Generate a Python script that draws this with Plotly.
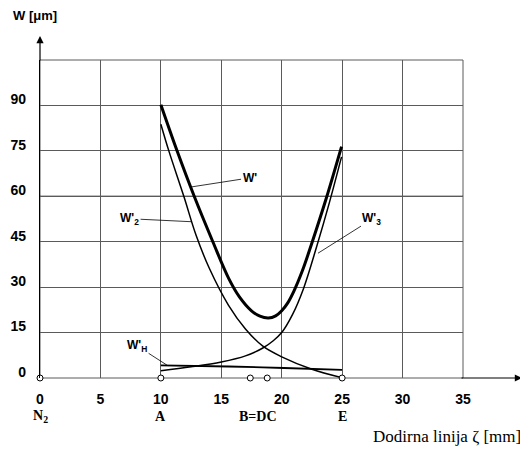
import plotly.graph_objects as go

# ---- data ----
wp_x = [10, 11.34, 12.76, 14.3, 15.6, 16.5, 17.5, 18.2, 18.9, 19.5, 20.0, 20.5,
        21.0, 21.7, 22.45, 23.7, 24.95]
wp_y = [90.2, 75, 60, 45, 33, 26.8, 22.2, 20.4, 19.8, 20.5, 22.2, 24.8,
        28.6, 35.3, 44, 59.5, 76.4]

w2_x = [10, 10.66, 11.9, 12.9, 14.0, 15.6, 17.0, 18.44, 20.0, 22.5, 24.9]
w2_y = [83.8, 75, 60, 47.3, 36.3, 24.0, 16.2, 10.5, 7.0, 2.9, 0.2]

w3_x = [10, 12.5, 15, 17, 18.44, 19.3, 20, 20.9, 21.8, 22.9, 23.95, 24.95]
w3_y = [2.4, 3.7, 5.3, 7.3, 9.9, 12.3, 15, 21, 29.5, 43.5, 58, 73]

wh_x = [10, 15.6, 20.2, 25]
wh_y = [4.2, 3.8, 3.3, 2.7]

pt_x = [0, 10, 17.4, 18.8, 25]
pt_y = [0, 0, 0, 0, 0]

name_x = [0, 10, 18.0, 25]
name_txt = ["N<sub>2</sub>", "A", "B=DC", "E"]

x_ticks = [0, 5, 10, 15, 20, 25, 30, 35]
x_ticktext = ["0", "5", "10", "15", "20", "25", "30", "35"]
y_ticks = [0, 15, 30, 45, 60, 75, 90, 105]
y_ticktext = ["0", "15", "30", "45", "60", "75", "90", ""]

# curve labels: text, point on curve (x, y), pixel offset of the label
lab_txt = ["W'", "W'<sub>2</sub>", "W'<sub>3</sub>", "W'<sub>H</sub>"]
lab_x = [12.54, 12.54, 23.0, 10.6]
lab_y = [63.1, 51.6, 41.2, 4.0]
lab_ax = [58, -62, 54, -31]
lab_ay = [-9, -3, -34, -20]

fig = go.Figure()
spl = dict(color="black", shape="spline", smoothing=1.0)
fig.add_trace(go.Scatter(x=wp_x, y=wp_y, mode="lines", line=dict(width=3, **spl)))
fig.add_trace(go.Scatter(x=w2_x, y=w2_y, mode="lines", line=dict(width=1.5, **spl)))
fig.add_trace(go.Scatter(x=w3_x, y=w3_y, mode="lines", line=dict(width=1.5, **spl)))
fig.add_trace(go.Scatter(x=wh_x, y=wh_y, mode="lines", line=dict(width=1.8, **spl)))
fig.add_trace(go.Scatter(x=pt_x, y=pt_y, mode="markers", cliponaxis=False,
                         marker=dict(symbol="circle", size=6, color="white",
                                     line=dict(width=1, color="black"))))

# frame and emphasised gridline at 60
fig.add_shape(type="rect", xref="paper", yref="paper", x0=0, y0=0, x1=1, y1=1,
              line=dict(color="#5a5a5a", width=1), layer="below")
fig.add_hline(y=60, line=dict(color="black", width=1.2), layer="below")

lab_font = dict(family="Liberation Sans, Arial", size=12, color="black", weight="bold")
for t, x, y, ax, ay in zip(lab_txt, lab_x, lab_y, lab_ax, lab_ay):
    fig.add_annotation(x=x, y=y, text=t, showarrow=True, arrowhead=0,
                       arrowwidth=0.8, arrowcolor="black", ax=ax, ay=ay,
                       font=lab_font)

for t, x in zip(name_txt, name_x):
    fig.add_annotation(x=x, y=-0.1226, xref="x", yref="paper", text=t,
                       showarrow=False, xanchor="center", yanchor="middle",
                       font=dict(family="Liberation Serif, Times New Roman", size=14,
                                 color="black", weight="bold"))

# axis arrows
fig.add_annotation(x=0, y=1.0755, xref="x", yref="paper", text="", showarrow=True,
                   arrowhead=2, arrowsize=1.2, arrowwidth=1.2, arrowcolor="black",
                   ax=0, ay=26)
fig.add_annotation(x=1.1395, y=0, xref="paper", yref="y", text="", showarrow=True,
                   arrowhead=2, arrowsize=1.2, arrowwidth=1.2, arrowcolor="black",
                   ax=-62, ay=0)

fig.add_annotation(x=-0.0118, y=1.1415, xref="paper", yref="paper",
                   text="W [μm]", showarrow=False, xanchor="center", yanchor="middle",
                   font=dict(family="Liberation Sans, Arial", size=13, color="black",
                             weight="bold"))
fig.add_annotation(x=0.962, y=-0.1855, xref="paper", yref="paper",
                   text="Dodirna linija ζ [mm]", showarrow=False,
                   xanchor="center", yanchor="middle",
                   font=dict(family="Liberation Serif, Times New Roman", size=17,
                             color="black"))

tick_font = dict(family="Liberation Sans, Arial", size=14, color="black", weight="bold")
fig.update_xaxes(range=[0, 35], tickvals=x_ticks, ticktext=x_ticktext,
                 showgrid=True, gridcolor="#5a5a5a", gridwidth=1,
                 zeroline=False, showline=False, ticks="", tickfont=tick_font,
                 ticklabelstandoff=11, fixedrange=True)
fig.update_yaxes(range=[0, 105], tickvals=y_ticks, ticktext=y_ticktext,
                 showgrid=True, gridcolor="#5a5a5a", gridwidth=1,
                 zeroline=False, showline=True, linecolor="black", linewidth=1.2,
                 ticks="", tickfont=tick_font, ticklabelstandoff=10,
                 ticklabelshift=-6, fixedrange=True)

# page body has an 8px margin: figure is 520x442 so it fills the 528x450 window
fig.update_layout(width=520, height=442, showlegend=False,
                  margin=dict(l=32, r=65, t=52, b=72, autoexpand=False),
                  plot_bgcolor="white", paper_bgcolor="white")

fig.write_html("out.html")
